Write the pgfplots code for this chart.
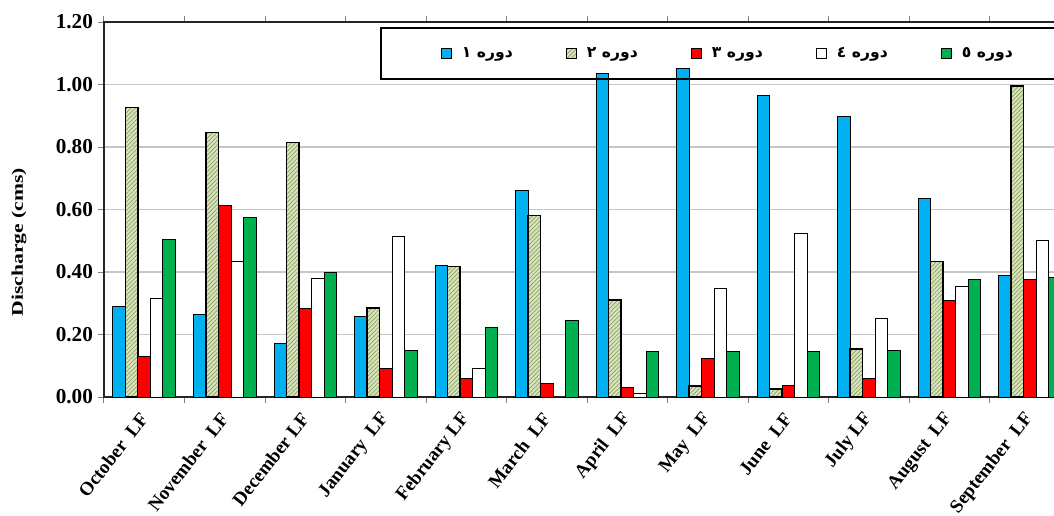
\documentclass[border=0pt]{standalone}
\usepackage{fontspec}
\setmainfont{Liberation Serif}
\newfontfamily\arabicfont[Script=Arabic]{DejaVu Sans}
\usepackage{graphicx}
\usepackage{pgfplots}
\usepackage{pgfplotstable}
\pgfplotsset{compat=1.18}
\usetikzlibrary{patterns.meta}
\TeXXeTstate=1
\definecolor{cblue}{RGB}{0,176,240}
\definecolor{chatch}{RGB}{215,228,189}
\definecolor{chatchline}{RGB}{140,160,95}
\definecolor{cred}{RGB}{255,0,0}
\definecolor{cgreen}{RGB}{0,176,80}
\pgfplotstableread{
x p1 p2 p3 p4 p5
0 0.290 0.926 0.129 0.315 0.505
1 0.265 0.846 0.612 0.433 0.575
2 0.170 0.814 0.283 0.378 0.398
3 0.259 0.285 0.092 0.513 0.150
4 0.420 0.417 0.058 0.092 0.223
5 0.660 0.581 0.044 0.000 0.246
6 1.034 0.310 0.031 0.010 0.147
7 1.050 0.036 0.124 0.348 0.147
8 0.966 0.026 0.038 0.523 0.147
9 0.899 0.153 0.058 0.252 0.150
10 0.636 0.433 0.310 0.353 0.377
11 0.388 0.995 0.377 0.501 0.383
}\data
\newcommand{\legtxt}[1]{\hspace{3pt}\makebox[50pt][l]{\arabicfont\bfseries\fontsize{7.8}{9}\selectfont\beginR #1\endR}}
\begin{document}
\begin{tikzpicture}
\begin{axis}[name=ax, scale only axis, width=483pt, height=187.5pt,
  xmin=-0.5, xmax=11.5, ymin=0, ymax=1.2,
  ybar=0pt, bar width=6.25pt,
  xtick={0,...,11},
  xticklabels={October\ \ LF, November\ \ LF, December LF, January\ \ LF, February LF, March\ \ LF, April\ \ LF, May\ \ LF, June\ \ LF, July LF, August\ \ LF, September\ \ LF},
  major x tick style={draw=none},
  minor xtick={-0.5,0.5,...,11.5},
  minor x tick style={draw=gray, line width=0.5pt},
  minor tick length=3pt, major tick length=3pt,
  tick align=outside,
  ytick={0,0.2,...,1.21},
  y tick style={draw=gray, line width=0.5pt},
  yticklabel style={xshift=1pt, /pgf/number format/fixed, /pgf/number format/fixed zerofill, /pgf/number format/precision=2, /pgf/number format/assume math mode=true, font=\bfseries\fontsize{10.6}{11}\selectfont},
  xticklabel style={xshift=2pt, yshift=-3.5pt, rotate=52, anchor=east, font=\bfseries\fontsize{9.5}{10}\selectfont},
  ylabel={\scalebox{1}[0.75]{Discharge (cms)}},
  ylabel style={font=\bfseries\fontsize{10.8}{12}\selectfont, at={(axis description cs:-0.088,0.413)}, anchor=center},
  ymajorgrids, grid style={gray!45, line width=0.6pt},
  axis line style={line width=1pt, black!85},
  legend columns=5,
  legend cell align=left,
  legend style={at={(axis description cs:0.2857,0.9867)}, anchor=north west, draw=black, line width=1pt, fill=none, inner xsep=30pt, inner ysep=7.6pt},
  legend image code/.code={\draw[#1, line width=0.5pt] (0pt,-2.5pt) rectangle (5pt,2.5pt);},
]
\addplot[fill=cblue, draw=black, line width=0.5pt] table[x=x,y=p1]{\data};
\addplot[fill=chatch, draw=black, line width=0.8pt, postaction={pattern={Lines[angle=45,distance=1.5pt,line width=0.35pt]}, pattern color=chatchline}] table[x=x,y=p2]{\data};
\addplot[fill=cred, draw=black, line width=0.5pt] table[x=x,y=p3]{\data};
\addplot[fill=white, draw=black, line width=0.5pt] table[x=x,y=p4]{\data};
\addplot[fill=cgreen, draw=black, line width=0.5pt] table[x=x,y=p5]{\data};
\addlegendentry{\legtxt{دوره ١}}
\addlegendentry{\legtxt{دوره ٢}}
\addlegendentry{\legtxt{دوره ٣}}
\addlegendentry{\legtxt{دوره ٤}}
\addlegendentry{\legtxt{دوره ٥}}
\end{axis}
\pgfresetboundingbox
\path (ax.south west) ++(-52pt,-59pt) rectangle ++(527pt,257.5pt);
\end{tikzpicture}
\end{document}
